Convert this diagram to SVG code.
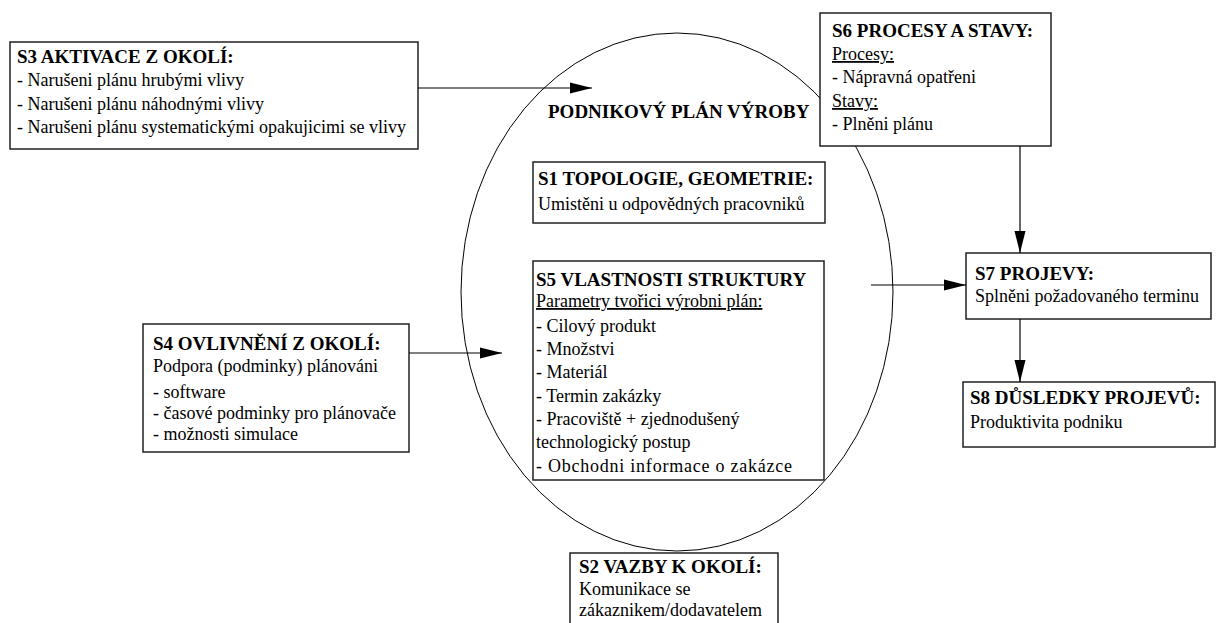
<svg xmlns="http://www.w3.org/2000/svg" width="1220" height="623" viewBox="0 0 1220 623">
  <style>
    .box { fill: #ffffff; stroke: #222222; stroke-width: 1.5; }
    .t { font-family: "Liberation Serif", "Times New Roman", serif; font-size: 18px; fill: #000000; }
    .h { font-family: "Liberation Serif", "Times New Roman", serif; font-size: 19px; font-weight: bold; fill: #000000; }
    .u { text-decoration: underline; }
    .wire { fill: none; stroke: #000000; stroke-width: 1.2; }
  </style>
  <defs>
    <marker id="arrow" markerUnits="userSpaceOnUse" markerWidth="24" markerHeight="12" refX="22" refY="6" orient="auto">
      <path d="M0,0.5 L22,6 L0,11.5 Z" fill="#000000"/>
    </marker>
  </defs>
  <rect width="1220" height="623" fill="#ffffff"/>

  <!-- central plan ellipse -->
  <g id="plan">
    <ellipse cx="677" cy="292" rx="216" ry="259" fill="none" stroke="#000000" stroke-width="1"/>
    <text class="h" x="548" y="118">PODNIKOVÝ PLÁN VÝROBY</text>
  </g>

  <g id="s3">
    <rect class="box" x="10" y="42" width="408" height="107"/>
    <text class="h" x="17" y="63">S3 AKTIVACE Z OKOLÍ:</text>
    <text class="t" x="17" y="86">- Narušeni plánu hrubými vlivy</text>
    <text class="t" x="17" y="110">- Narušeni plánu náhodnými vlivy</text>
    <text class="t" x="17" y="133">- Narušeni plánu systematickými opakujicimi se vlivy</text>
  </g>

  <g id="s6">
    <rect class="box" x="820" y="13" width="231" height="133"/>
    <text class="h" x="832" y="37">S6 PROCESY A STAVY:</text>
    <text class="t u" x="832" y="60">Procesy:</text>
    <text class="t" x="832" y="83">- Nápravná opatřeni</text>
    <text class="t u" x="832" y="107">Stavy:</text>
    <text class="t" x="832" y="130">- Plněni plánu</text>
  </g>

  <g id="s1">
    <rect class="box" x="533" y="162" width="292" height="61"/>
    <text class="h" x="538" y="185">S1 TOPOLOGIE, GEOMETRIE:</text>
    <text class="t" x="538" y="210">Umistěni u odpovědných pracovniků</text>
  </g>

  <g id="s5">
    <rect class="box" x="533" y="261" width="291" height="219"/>
    <text class="h" x="536" y="286">S5 VLASTNOSTI STRUKTURY</text>
    <text class="t u" x="536" y="307">Parametry tvořici výrobni plán:</text>
    <text class="t" x="536" y="332">- Cilový produkt</text>
    <text class="t" x="536" y="355">- Množstvi</text>
    <text class="t" x="536" y="378">- Materiál</text>
    <text class="t" x="536" y="402">- Termin zakázky</text>
    <text class="t" x="536" y="425">- Pracoviště + zjednodušený</text>
    <text class="t" x="536" y="448">technologický postup</text>
    <text class="t" x="536" y="472" textLength="256" lengthAdjust="spacing">- Obchodni informace o zakázce</text>
  </g>

  <g id="s4">
    <rect class="box" x="143" y="324" width="266" height="128"/>
    <text class="h" x="153" y="350">S4 OVLIVNĚNÍ Z OKOLÍ:</text>
    <text class="t" x="153" y="372">Podpora (podminky) plánováni</text>
    <text class="t" x="153" y="398">- software</text>
    <text class="t" x="153" y="419">- časové podminky pro plánovače</text>
    <text class="t" x="153" y="440">- možnosti simulace</text>
  </g>

  <g id="s7">
    <rect class="box" x="966" y="253" width="245" height="66"/>
    <text class="h" x="975" y="280">S7 PROJEVY:</text>
    <text class="t" x="975" y="302">Splněni požadovaného terminu</text>
  </g>

  <g id="s8">
    <rect class="box" x="963" y="382" width="252" height="65"/>
    <text class="h" x="970" y="404">S8 DŮSLEDKY PROJEVŮ:</text>
    <text class="t" x="970" y="428">Produktivita podniku</text>
  </g>

  <g id="s2">
    <rect class="box" x="570" y="553" width="208" height="80"/>
    <text class="h" x="579" y="573">S2 VAZBY K OKOLÍ:</text>
    <text class="t" x="579" y="595">Komunikace se</text>
    <text class="t" x="579" y="616">zákaznikem/dodavatelem</text>
  </g>

  <!-- connectors -->
  <g id="connectors">
    <line class="wire" x1="418" y1="88" x2="592" y2="88" marker-end="url(#arrow)"/>
    <line class="wire" x1="409" y1="353" x2="502" y2="353" marker-end="url(#arrow)"/>
    <line class="wire" x1="871" y1="285" x2="966" y2="285" marker-end="url(#arrow)"/>
    <line class="wire" x1="1020" y1="146" x2="1020" y2="253" marker-end="url(#arrow)"/>
    <line class="wire" x1="1020" y1="319" x2="1020" y2="382" marker-end="url(#arrow)"/>
  </g>
</svg>
